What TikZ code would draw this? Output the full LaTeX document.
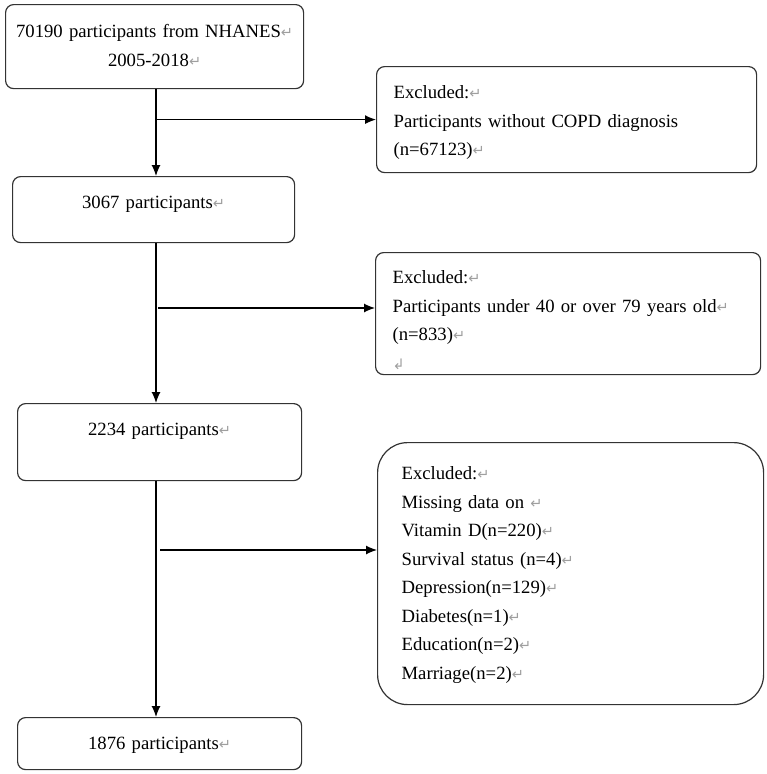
\documentclass[tikz,border=0pt]{standalone}
\usepackage{fontspec}
\setmainfont{Liberation Serif}
\newfontfamily\marksym{DejaVu Sans}
\usepackage{tikz}
\usetikzlibrary{arrows.meta}
\newcommand{\retmark}{{\marksym\fontsize{14.5}{14.5}\selectfont\textcolor{gray!75}{↵}}}
\newcommand{\brkmark}{{\marksym\fontsize{14.5}{14.5}\selectfont\textcolor{gray!75}{↲}}}
\tikzset{box/.style={draw=black!80, line width=1.2pt, rounded corners=8pt,
   inner sep=0pt, anchor=north west, font=\fontsize{18.7}{28.5}\selectfont},
 mainbox/.style={box, align=center},
 exbox/.style={box, align=left, inner xsep=17pt},
 flow/.style={line width=1.2pt, -{Latex[length=11pt,width=9pt]}},
 }

\begin{document}
\begin{tikzpicture}[x=1pt,y=-1pt]
        \useasboundingbox (0,0) rectangle (767,774);
        % main column
        \node[mainbox, text width=298pt, text height=33pt, text depth=51pt] (src) at (5,4)
            {70190 participants from NHANES\retmark\\2005-2018\retmark};
        \node[mainbox, text width=282pt, text height=32pt, text depth=34pt] (n3067) at (12,176)
            {3067 participants\retmark};
        \node[mainbox, text width=284pt, text height=32pt, text depth=45pt] (n2234) at (17,403)
            {2234 participants\retmark};
        \node[mainbox, text width=284pt, text height=32pt, text depth=20pt] (n1876) at (17,717)
            {1876 participants\retmark};
        % exclusions
        \node[exbox, text width=346pt, text height=32pt, text depth=74pt] (ex1) at (376,66)
            {Excluded:\retmark\\Participants without COPD diagnosis\\(n=67123)\retmark};
        \node[exbox, text width=351pt, text height=31pt, text depth=91pt] (ex2) at (375,252)
            {Excluded:\retmark\\Participants under 40 or over 79 years old\retmark\\(n=833)\retmark\\\brkmark};
        \node[exbox, rounded corners=30pt, inner xsep=24pt, text width=338pt, text height=37pt, text depth=225pt] (ex3) at (377,442)
            {Excluded:\retmark\\Missing data on \retmark\\Vitamin D(n=220)\retmark\\Survival status (n=4)\retmark\\
             Depression(n=129)\retmark\\Diabetes(n=1)\retmark\\Education(n=2)\retmark\\Marriage(n=2)\retmark};
        % connectors
        \coordinate (spine) at (156,0);
        \coordinate (b2) at (158,308);
        \coordinate (b3) at (160,550);
        \draw[flow] (src.south -| spine) -- (n3067.north -| spine);
        \draw[flow] (n3067.south -| spine) -- (n2234.north -| spine);
        \draw[flow] (n2234.south -| spine) -- (n1876.north -| spine);
        \draw[flow] (spine |- ex1.west) -- (ex1.west);
        \draw[flow] (b2) -- (b2 -| ex2.west);
        \draw[flow] (b3) -- (b3 -| ex3.west);
    \end{tikzpicture}
\end{document}
